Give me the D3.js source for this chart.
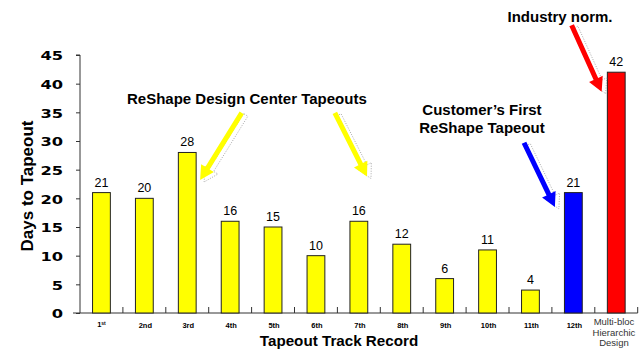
<!DOCTYPE html>
<html><head><meta charset="utf-8">
<script src="https://cdn.jsdelivr.net/npm/d3@7"></script>
<style>
html,body{margin:0;padding:0;background:#fff;}
svg{display:block;font-family:"Liberation Sans",Arial,sans-serif;}
</style></head>
<body>
<svg id="c" width="639" height="350"></svg>
<script>
// ---- data ----
const categories = ["1st","2nd","3rd","4th","5th","6th","7th","8th","9th","10th","11th","12th","Multi-bloc\nHierarchic\nDesign"];
const values = [21,20,28,16,15,10,16,12,6,11,4,21,42];
const barColors = ["#FFFF00","#FFFF00","#FFFF00","#FFFF00","#FFFF00","#FFFF00","#FFFF00","#FFFF00","#FFFF00","#FFFF00","#FFFF00","#0000FF","#FF0000"];
const yTicks = [0,5,10,15,20,25,30,35,40,45];
const yTitle = "Days to Tapeout";
const xTitle = "Tapeout Track Record";
// annotation positions in data units: u = position in category steps from the y axis, v = value
const arrowColors = ["#FFFF00","#FFFF00","#0000FF","#FF0000"];
const arrowFromU = [3.77, 5.94, 10.35, 11.46];
const arrowFromV = [34.9, 34.9, 29.7, 50.2];
const arrowToU = [2.80, 6.69, 11.07, 12.16];
const arrowToV = [23.2, 23.8, 18.5, 38.6];
const noteTexts = ["ReShape Design Center Tapeouts","Industry norm.","Customer\u2019s First","ReShape Tapeout"];
const noteU = [3.89, 11.19, 9.37, 9.37];
const noteV = [36.5, 50.8, 34.5, 31.4];

// ---- layout ----
const svg = d3.select("#c");
const x0 = 80, x1 = 637.7, yBottom = 313, yTop = 55;
const x = d3.scaleBand().domain(categories).range([x0, x1]).paddingInner(0.585).paddingOuter(0.2925);
const y = d3.scaleLinear().domain([0,45]).range([yBottom, yTop]);
const step = x.step();
const ux = u => x0 + u*step;

// y axis
const yAxis = d3.axisLeft(y).tickValues(yTicks).tickSize(4).tickPadding(12);
const gy = svg.append("g").attr("transform",`translate(${x0},0)`).call(yAxis);
gy.select(".domain").attr("stroke","#333").attr("d",`M-4,${yTop}H0V${yBottom}`);
gy.selectAll(".tick line").attr("stroke","#333");
gy.selectAll(".tick text").attr("fill","#000").attr("font-family","'DejaVu Sans',sans-serif")
  .attr("font-weight","bold").attr("font-size",13).attr("x",0).attr("dy","0.36em")
  .attr("transform",function(){ return `translate(-17,0) scale(1.25,1)`; });

// x axis line and separator ticks
svg.append("line").attr("x1",x0-7).attr("x2",x1).attr("y1",yBottom).attr("y2",yBottom).attr("stroke","#333");
svg.append("g").selectAll("line").data(d3.range(1,categories.length+1)).join("line")
  .attr("x1",i=>x0+i*step).attr("x2",i=>x0+i*step).attr("y1",yBottom).attr("y2",yBottom-6).attr("stroke","#333");

// bars
svg.append("g").selectAll("rect").data(values).join("rect")
  .attr("x",(d,i)=>x(categories[i])).attr("width",x.bandwidth())
  .attr("y",d=>y(d)).attr("height",d=>y(0)-y(d))
  .attr("fill",(d,i)=>barColors[i]).attr("stroke","#222").attr("stroke-width",1);

// value labels
svg.append("g").selectAll("text").data(values).join("text")
  .attr("x",(d,i)=>x(categories[i])+x.bandwidth()/2).attr("y",d=>y(d)-6)
  .attr("text-anchor","middle").attr("font-size",12.5).attr("fill","#000").text(d=>d);

// category labels
const cl = svg.append("g");
categories.forEach((c,i)=>{
  const cx = x(c)+x.bandwidth()/2;
  if(c.indexOf("\n")>=0){
    const lines = c.split("\n");
    lines.forEach((ln,j)=>{
      cl.append("text").attr("x",Math.min(cx+1, 614)).attr("y",325+j*10.5).attr("text-anchor","middle")
        .attr("font-size",9.5).attr("fill","#333").text(ln);
    });
  } else if(c==="1st"){
    const t = cl.append("text").attr("x",cx).attr("y",327).attr("text-anchor","middle")
      .attr("font-size",7.5).attr("font-weight","bold").attr("fill","#000");
    t.append("tspan").text("1");
    t.append("tspan").attr("font-size",5).attr("dy",-2).text("st");
  } else {
    cl.append("text").attr("x",cx+1).attr("y",328).attr("text-anchor","middle")
      .attr("font-size",7.5).attr("font-weight","bold").attr("fill","#000").text(c);
  }
});

// axis titles
svg.append("text").attr("transform","translate(33,186) rotate(-90)").attr("text-anchor","middle")
  .attr("font-size",17).attr("font-weight","bold").attr("fill","#000").text(yTitle);
svg.append("text").attr("x",339).attr("y",346).attr("text-anchor","middle")
  .attr("font-size",15.2).attr("font-weight","bold").attr("fill","#000").text(xTitle);

// annotation texts
svg.append("g").selectAll("text").data(noteTexts).join("text")
  .attr("x",(d,i)=>ux(noteU[i])).attr("y",(d,i)=>y(noteV[i]))
  .attr("text-anchor","middle").attr("font-size",15).attr("font-weight","bold").attr("fill","#000").text(d=>d);

// arrows
const ag = svg.append("g");
arrowColors.forEach((col,i)=>{
  const ax = ux(arrowFromU[i]), ay = y(arrowFromV[i]);
  const bx = ux(arrowToU[i]), by = y(arrowToV[i]);
  const dx = bx-ax, dy = by-ay, L = Math.hypot(dx,dy);
  const ex = dx/L, ey = dy/L, nx = -ey, ny = ex;
  const hl = 14, hw = 7.5;
  const baseX = bx - ex*hl, baseY = by - ey*hl;
  const shape = (ox,oy)=>{
    const p = [];
    const w = 2.5;
    p.push([ax+nx*w+ox, ay+ny*w+oy]);
    p.push([baseX+nx*w+ox, baseY+ny*w+oy]);
    p.push([baseX+nx*hw+ox, baseY+ny*hw+oy]);
    p.push([bx+ox, by+oy]);
    p.push([baseX-nx*hw+ox, baseY-ny*hw+oy]);
    p.push([baseX-nx*w+ox, baseY-ny*w+oy]);
    p.push([ax-nx*w+ox, ay-ny*w+oy]);
    return p.map(q=>q.join(",")).join(" ");
  };
  ag.append("polygon").attr("points",shape(4,2)).attr("fill","none")
    .attr("stroke","#aaa").attr("stroke-width",1).attr("stroke-dasharray","1,1.5");
  ag.append("polygon").attr("points",shape(0,0)).attr("fill",col).attr("stroke","none");
});
</script>
</body></html>
